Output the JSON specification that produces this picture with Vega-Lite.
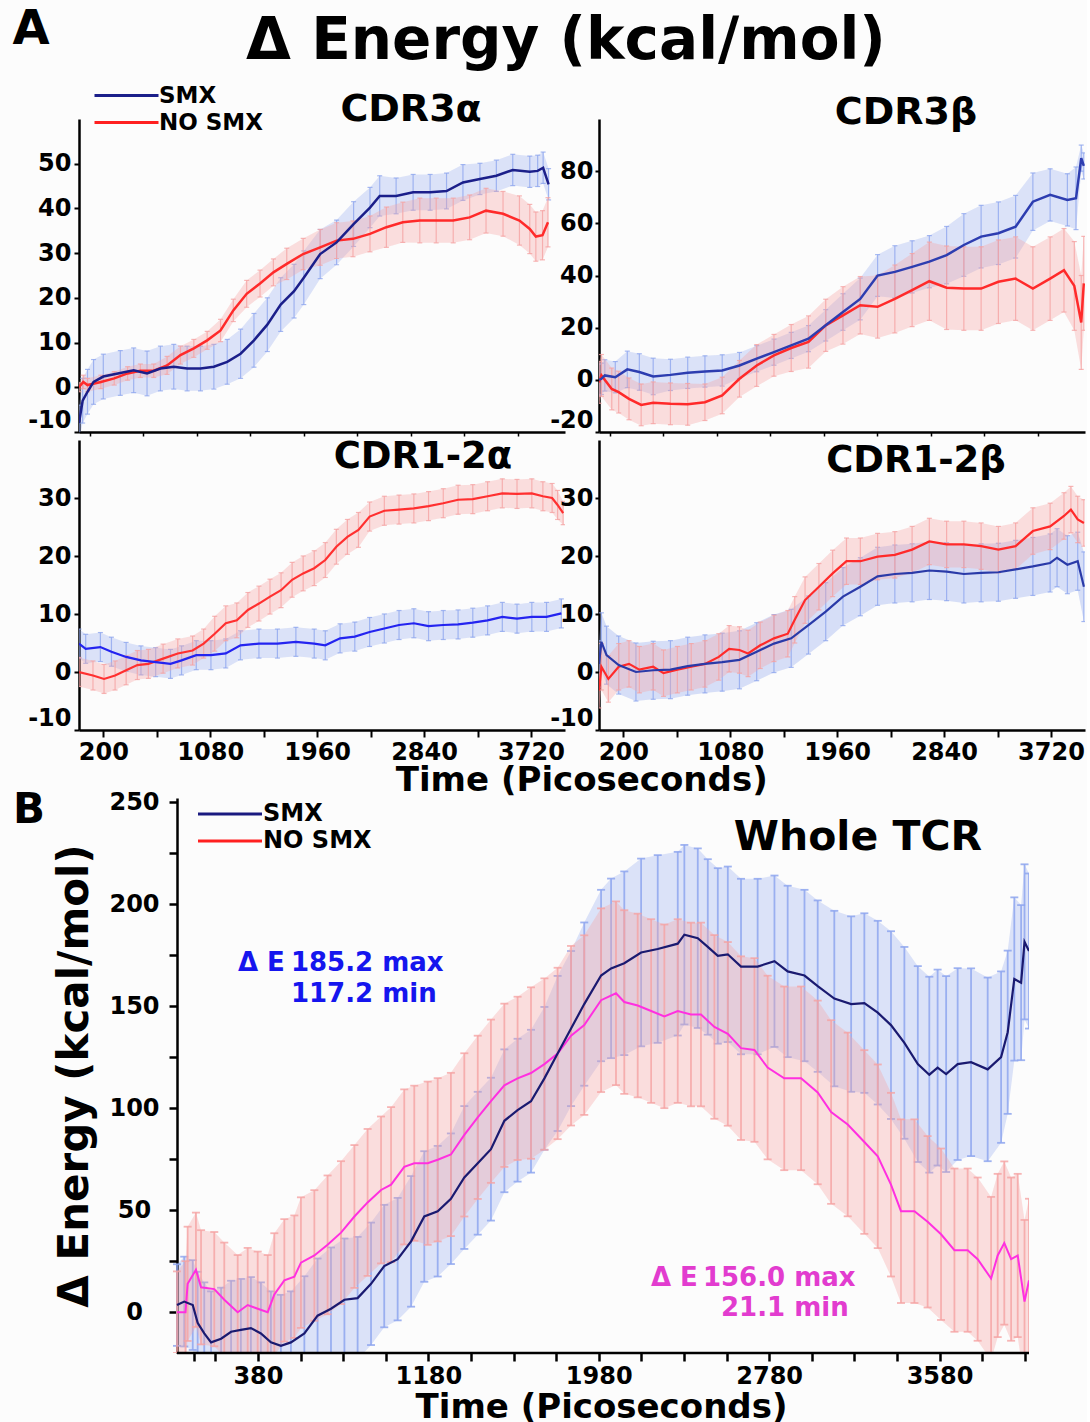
{
"$schema": "https://vega.github.io/schema/vega-lite/v6.json",
"background": "#fcfcfc",
"padding": {"left": 12, "top": 6, "right": 2, "bottom": 0},
"config": {
  "font": "DejaVu Sans",
  "view": {"stroke": null},
  "axis": {"grid": false, "domainColor": "#000", "domainWidth": 2.5, "tickColor": "#000", "tickWidth": 2, "labelColor": "#000", "labelFont": "DejaVu Sans", "labelFontWeight": "bold", "labelFontSize": 24, "titleFont": "DejaVu Sans", "titleFontWeight": "bold", "titleColor": "#000"},
  "title": {"font": "DejaVu Sans", "fontWeight": "bold", "color": "#000"}
},
"datasets": {
  "cdr3a_smx": [{"t":0,"m":-8,"e":4},{"t":30,"m":-3,"e":5},{"t":70,"m":-1,"e":5},{"t":120,"m":1.2,"e":5},{"t":200,"m":2.4,"e":5},{"t":340,"m":3.2,"e":5},{"t":450,"m":3.8,"e":5},{"t":560,"m":3.1,"e":5},{"t":670,"m":4.2,"e":5},{"t":780,"m":4.6,"e":5},{"t":890,"m":4.2,"e":5},{"t":1000,"m":4.2,"e":5},{"t":1110,"m":4.6,"e":5},{"t":1220,"m":5.7,"e":5},{"t":1330,"m":7.5,"e":5.5},{"t":1440,"m":10.5,"e":6},{"t":1550,"m":14,"e":6},{"t":1660,"m":18.5,"e":6},{"t":1770,"m":21.5,"e":6},{"t":1850,"m":24.5,"e":6},{"t":1985,"m":29.8,"e":5.5},{"t":2120,"m":32.4,"e":5},{"t":2260,"m":36.5,"e":5},{"t":2395,"m":40.2,"e":4.5},{"t":2475,"m":42.8,"e":4.5},{"t":2610,"m":42.8,"e":4},{"t":2750,"m":43.6,"e":4},{"t":2890,"m":43.6,"e":4},{"t":3025,"m":43.9,"e":4},{"t":3160,"m":45.8,"e":4},{"t":3300,"m":46.6,"e":3.5},{"t":3435,"m":47.3,"e":3.5},{"t":3570,"m":48.6,"e":3.5},{"t":3710,"m":48.2,"e":3.5},{"t":3775,"m":48.4,"e":3.5},{"t":3820,"m":49.1,"e":3.5},{"t":3865,"m":45.4,"e":3.5}],
  "cdr3a_no": [{"t":0,"m":0,"e":1},{"t":35,"m":1.2,"e":1.5},{"t":70,"m":0.5,"e":1.5},{"t":180,"m":1.2,"e":1.5},{"t":290,"m":2,"e":1.5},{"t":400,"m":3.1,"e":1.5},{"t":505,"m":3.7,"e":1.5},{"t":615,"m":3.7,"e":1.5},{"t":725,"m":4.9,"e":2},{"t":835,"m":7.2,"e":2},{"t":945,"m":8.7,"e":2},{"t":1055,"m":10.5,"e":2},{"t":1165,"m":12.7,"e":2.5},{"t":1270,"m":17.2,"e":2.5},{"t":1380,"m":20.9,"e":3},{"t":1490,"m":23.2,"e":3},{"t":1600,"m":25.7,"e":3},{"t":1710,"m":27.6,"e":3.5},{"t":1845,"m":29.8,"e":3.5},{"t":1985,"m":31.3,"e":4},{"t":2120,"m":32.8,"e":4},{"t":2255,"m":33.2,"e":4},{"t":2395,"m":34.3,"e":4},{"t":2530,"m":35.8,"e":4.5},{"t":2665,"m":36.9,"e":4.5},{"t":2805,"m":37.3,"e":5},{"t":2940,"m":37.3,"e":5},{"t":3080,"m":37.3,"e":5},{"t":3215,"m":38,"e":5},{"t":3350,"m":39.5,"e":5},{"t":3490,"m":38.8,"e":5},{"t":3625,"m":37.3,"e":5.5},{"t":3710,"m":35.4,"e":5.5},{"t":3760,"m":33.7,"e":5.5},{"t":3815,"m":34,"e":5.5},{"t":3860,"m":36.9,"e":5.5}],
  "cdr3b_smx": [{"t":0,"m":0,"e":6},{"t":20,"m":0.4,"e":6},{"t":48,"m":1.7,"e":6},{"t":134,"m":1,"e":6},{"t":233,"m":4,"e":7},{"t":332,"m":3,"e":7},{"t":446,"m":1.3,"e":7},{"t":588,"m":1.9,"e":6},{"t":730,"m":2.7,"e":6},{"t":872,"m":3.2,"e":6},{"t":1014,"m":3.6,"e":6},{"t":1156,"m":5.5,"e":5},{"t":1298,"m":8.1,"e":5},{"t":1440,"m":10.6,"e":5},{"t":1582,"m":13.2,"e":5},{"t":1724,"m":15.8,"e":5},{"t":1866,"m":20.9,"e":6},{"t":2008,"m":26,"e":7},{"t":2150,"m":31,"e":8},{"t":2293,"m":40,"e":8},{"t":2435,"m":41.4,"e":10},{"t":2577,"m":43.3,"e":10},{"t":2719,"m":45.3,"e":10},{"t":2861,"m":47.8,"e":11},{"t":3003,"m":51.7,"e":12},{"t":3145,"m":54.9,"e":12},{"t":3287,"m":56.2,"e":12},{"t":3429,"m":58.7,"e":12},{"t":3571,"m":68.3,"e":11},{"t":3713,"m":70.9,"e":10},{"t":3855,"m":69,"e":10},{"t":3926,"m":69.6,"e":12},{"t":3969,"m":85,"e":5},{"t":3990,"m":82,"e":5}],
  "cdr3b_no": [{"t":0,"m":-1,"e":8},{"t":20,"m":1.7,"e":8},{"t":105,"m":-3.5,"e":8},{"t":162,"m":-4.7,"e":8},{"t":247,"m":-7.3,"e":8},{"t":347,"m":-9.6,"e":8},{"t":446,"m":-8.8,"e":8},{"t":588,"m":-9.2,"e":8},{"t":730,"m":-9.4,"e":8},{"t":872,"m":-8.6,"e":7},{"t":1014,"m":-6,"e":7},{"t":1156,"m":0.4,"e":7},{"t":1298,"m":5.5,"e":8},{"t":1440,"m":9.4,"e":8},{"t":1582,"m":12.2,"e":9},{"t":1724,"m":14.5,"e":10},{"t":1866,"m":20.9,"e":10},{"t":2008,"m":24.7,"e":11},{"t":2150,"m":28.6,"e":11},{"t":2293,"m":28,"e":12},{"t":2435,"m":31,"e":13},{"t":2577,"m":34.4,"e":14},{"t":2719,"m":37.8,"e":15},{"t":2861,"m":35.3,"e":16},{"t":3003,"m":35,"e":16},{"t":3145,"m":35,"e":16},{"t":3287,"m":37.6,"e":16},{"t":3429,"m":38.8,"e":16},{"t":3571,"m":35,"e":16},{"t":3713,"m":38.8,"e":16},{"t":3827,"m":42,"e":16},{"t":3912,"m":36,"e":17},{"t":3969,"m":22,"e":18},{"t":3990,"m":37,"e":18}],
  "cdr12a_smx": [{"t":0,"m":4.9,"e":2.5},{"t":55,"m":4,"e":2.5},{"t":176,"m":4.3,"e":2.5},{"t":267,"m":3.5,"e":2.5},{"t":388,"m":2.6,"e":2.5},{"t":510,"m":2,"e":2.5},{"t":631,"m":1.7,"e":2.5},{"t":753,"m":1.4,"e":2.5},{"t":844,"m":2,"e":2.5},{"t":965,"m":2.9,"e":2.5},{"t":1086,"m":2.9,"e":2.5},{"t":1208,"m":3.2,"e":2.5},{"t":1329,"m":4.6,"e":2.5},{"t":1481,"m":4.9,"e":2.5},{"t":1633,"m":4.9,"e":2.5},{"t":1785,"m":5.2,"e":2.5},{"t":1936,"m":4.9,"e":2.5},{"t":2027,"m":4.6,"e":2.5},{"t":2149,"m":5.8,"e":2.5},{"t":2270,"m":6.1,"e":2.5},{"t":2392,"m":6.9,"e":2.5},{"t":2513,"m":7.5,"e":2.5},{"t":2634,"m":8.1,"e":2.5},{"t":2756,"m":8.4,"e":2.5},{"t":2877,"m":7.9,"e":2.5},{"t":2998,"m":8.1,"e":2.5},{"t":3120,"m":8.2,"e":2.5},{"t":3241,"m":8.5,"e":2.5},{"t":3363,"m":8.9,"e":2.5},{"t":3484,"m":9.5,"e":2.5},{"t":3605,"m":9.2,"e":2.5},{"t":3727,"m":9.5,"e":2.5},{"t":3848,"m":9.5,"e":2.5},{"t":3970,"m":10.1,"e":2.5}],
  "cdr12a_no": [{"t":0,"m":0,"e":2.5},{"t":115,"m":-0.6,"e":2.5},{"t":206,"m":-1.2,"e":2.5},{"t":297,"m":-0.6,"e":2.5},{"t":388,"m":0.3,"e":2.5},{"t":480,"m":1.2,"e":2.5},{"t":571,"m":1.4,"e":2.5},{"t":692,"m":2.3,"e":2.5},{"t":813,"m":3.2,"e":2.5},{"t":935,"m":3.7,"e":2.5},{"t":1026,"m":4.9,"e":2.5},{"t":1117,"m":6.6,"e":3},{"t":1208,"m":8.4,"e":3},{"t":1299,"m":8.9,"e":3},{"t":1390,"m":10.7,"e":3},{"t":1481,"m":11.8,"e":3},{"t":1572,"m":13,"e":3},{"t":1663,"m":14.1,"e":3},{"t":1754,"m":15.9,"e":3},{"t":1845,"m":17,"e":3},{"t":1936,"m":17.9,"e":3},{"t":2027,"m":19.3,"e":3},{"t":2118,"m":21.6,"e":3},{"t":2209,"m":23.3,"e":3},{"t":2300,"m":24.5,"e":3},{"t":2392,"m":26.8,"e":2.5},{"t":2513,"m":27.8,"e":2.5},{"t":2634,"m":28,"e":2.5},{"t":2756,"m":28.2,"e":2.5},{"t":2877,"m":28.6,"e":2.5},{"t":2998,"m":29.1,"e":2.5},{"t":3120,"m":29.7,"e":2.5},{"t":3241,"m":29.8,"e":2.5},{"t":3363,"m":30.3,"e":2.5},{"t":3484,"m":30.8,"e":2.5},{"t":3605,"m":30.7,"e":2.5},{"t":3727,"m":30.8,"e":2.5},{"t":3818,"m":30.3,"e":2.5},{"t":3894,"m":30,"e":2.5},{"t":3939,"m":28.8,"e":2.5},{"t":3985,"m":27.4,"e":2}],
  "cdr12b_smx": [{"t":0,"m":1.4,"e":4},{"t":20,"m":5.2,"e":5},{"t":62,"m":2.9,"e":5},{"t":162,"m":1.2,"e":5},{"t":304,"m":0,"e":5},{"t":446,"m":0.3,"e":5},{"t":588,"m":0.4,"e":5},{"t":730,"m":1,"e":5},{"t":872,"m":1.4,"e":5},{"t":1014,"m":1.7,"e":5},{"t":1156,"m":2.1,"e":5},{"t":1298,"m":3.5,"e":5},{"t":1440,"m":4.9,"e":5},{"t":1582,"m":5.8,"e":5},{"t":1724,"m":8.1,"e":5},{"t":1866,"m":10.4,"e":5},{"t":2008,"m":13,"e":5},{"t":2151,"m":14.7,"e":5},{"t":2293,"m":16.5,"e":5},{"t":2435,"m":16.9,"e":5},{"t":2577,"m":17.1,"e":5},{"t":2719,"m":17.5,"e":5},{"t":2861,"m":17.3,"e":5},{"t":3003,"m":16.9,"e":5},{"t":3145,"m":17.1,"e":5},{"t":3287,"m":17.2,"e":5},{"t":3429,"m":17.7,"e":5},{"t":3571,"m":18.2,"e":5},{"t":3713,"m":18.8,"e":5},{"t":3770,"m":19.7,"e":5},{"t":3855,"m":18.5,"e":5},{"t":3940,"m":19.1,"e":5},{"t":3991,"m":14.7,"e":6}],
  "cdr12b_no": [{"t":0,"m":-3.2,"e":3},{"t":20,"m":0.9,"e":4},{"t":77,"m":-1.2,"e":4},{"t":162,"m":0.9,"e":4},{"t":247,"m":1.4,"e":4},{"t":332,"m":0.4,"e":4},{"t":446,"m":0.9,"e":4},{"t":531,"m":-0.2,"e":4},{"t":645,"m":0.4,"e":4},{"t":759,"m":0.9,"e":4},{"t":872,"m":1.4,"e":4},{"t":986,"m":2.6,"e":4},{"t":1071,"m":4,"e":4},{"t":1156,"m":3.8,"e":4},{"t":1227,"m":3.2,"e":4},{"t":1327,"m":4.6,"e":4},{"t":1440,"m":5.8,"e":4},{"t":1554,"m":6.6,"e":4},{"t":1611,"m":9,"e":4},{"t":1696,"m":12.4,"e":4},{"t":1810,"m":14.7,"e":4},{"t":1923,"m":17,"e":4},{"t":2037,"m":19.1,"e":4},{"t":2151,"m":19.1,"e":4},{"t":2293,"m":19.9,"e":4},{"t":2435,"m":20.2,"e":4},{"t":2577,"m":21.1,"e":4},{"t":2719,"m":22.5,"e":4},{"t":2861,"m":22,"e":4},{"t":3003,"m":22,"e":4},{"t":3145,"m":21.7,"e":4},{"t":3287,"m":21.1,"e":4},{"t":3429,"m":21.7,"e":4},{"t":3571,"m":24.3,"e":4},{"t":3713,"m":25.1,"e":4},{"t":3827,"m":26.9,"e":4},{"t":3884,"m":28,"e":4},{"t":3940,"m":26.3,"e":4},{"t":3991,"m":25.7,"e":4}],
  "tcr_smx": [{"t":0,"m":3.5,"e":20},{"t":34,"m":5.2,"e":22},{"t":74,"m":3.5,"e":22},{"t":97,"m":-5.2,"e":25},{"t":128,"m":-10.4,"e":25},{"t":160,"m":-14.8,"e":25},{"t":207,"m":-13,"e":25},{"t":254,"m":-9.6,"e":25},{"t":300,"m":-8.7,"e":25},{"t":347,"m":-7.8,"e":25},{"t":394,"m":-10.4,"e":25},{"t":441,"m":-14.8,"e":25},{"t":488,"m":-16.5,"e":25},{"t":535,"m":-14.8,"e":25},{"t":598,"m":-10.4,"e":28},{"t":660,"m":-1.7,"e":28},{"t":723,"m":1.7,"e":30},{"t":786,"m":6.1,"e":30},{"t":848,"m":6.9,"e":30},{"t":911,"m":13.9,"e":30},{"t":973,"m":22.6,"e":30},{"t":1036,"m":26,"e":30},{"t":1099,"m":34.7,"e":32},{"t":1161,"m":46.9,"e":32},{"t":1224,"m":49.5,"e":32},{"t":1286,"m":55.6,"e":32},{"t":1349,"m":66,"e":35},{"t":1412,"m":73,"e":35},{"t":1474,"m":79.9,"e":35},{"t":1537,"m":93.8,"e":35},{"t":1599,"m":99,"e":35},{"t":1662,"m":103.4,"e":35},{"t":1725,"m":114.6,"e":35},{"t":1787,"m":126.8,"e":38},{"t":1850,"m":139,"e":38},{"t":1912,"m":151,"e":40},{"t":1991,"m":165,"e":42},{"t":2038,"m":168.5,"e":44},{"t":2100,"m":171,"e":45},{"t":2179,"m":176.3,"e":46},{"t":2257,"m":178,"e":46},{"t":2351,"m":180.6,"e":45},{"t":2382,"m":185,"e":44},{"t":2445,"m":183.3,"e":44},{"t":2492,"m":179,"e":43},{"t":2539,"m":174.6,"e":43},{"t":2586,"m":175.4,"e":43},{"t":2648,"m":169.4,"e":43},{"t":2726,"m":169.4,"e":43},{"t":2805,"m":172,"e":42},{"t":2867,"m":167,"e":42},{"t":2946,"m":165,"e":42},{"t":3008,"m":159.8,"e":42},{"t":3086,"m":153.7,"e":43},{"t":3165,"m":151,"e":43},{"t":3227,"m":151.5,"e":44},{"t":3290,"m":146.8,"e":45},{"t":3352,"m":140.7,"e":46},{"t":3415,"m":132,"e":47},{"t":3478,"m":121.6,"e":48},{"t":3532,"m":116.4,"e":48},{"t":3571,"m":119.9,"e":48},{"t":3611,"m":116.7,"e":48},{"t":3665,"m":121.6,"e":47},{"t":3728,"m":122.5,"e":46},{"t":3806,"m":119,"e":45},{"t":3869,"m":125,"e":42},{"t":3900,"m":137.2,"e":40},{"t":3931,"m":163.3,"e":40},{"t":3963,"m":161.5,"e":38},{"t":3979,"m":181.5,"e":38},{"t":4000,"m":177,"e":38}],
  "tcr_no": [{"t":0,"m":0,"e":20},{"t":40,"m":0,"e":25},{"t":50,"m":13.9,"e":28},{"t":89,"m":20.8,"e":28},{"t":113,"m":12.2,"e":28},{"t":175,"m":11.3,"e":28},{"t":222,"m":6.1,"e":28},{"t":285,"m":0,"e":28},{"t":332,"m":3.5,"e":28},{"t":379,"m":1.7,"e":28},{"t":426,"m":0,"e":28},{"t":457,"m":8.7,"e":30},{"t":504,"m":15.6,"e":30},{"t":551,"m":17.4,"e":30},{"t":582,"m":24.3,"e":32},{"t":645,"m":27.8,"e":32},{"t":707,"m":33,"e":34},{"t":770,"m":39,"e":35},{"t":833,"m":46.9,"e":35},{"t":895,"m":53.8,"e":36},{"t":958,"m":59.9,"e":36},{"t":1005,"m":62.5,"e":38},{"t":1067,"m":71.2,"e":38},{"t":1114,"m":73,"e":38},{"t":1177,"m":73,"e":40},{"t":1224,"m":74.7,"e":40},{"t":1286,"m":77.3,"e":40},{"t":1349,"m":86.9,"e":40},{"t":1412,"m":95.5,"e":40},{"t":1474,"m":103.4,"e":40},{"t":1537,"m":111.2,"e":40},{"t":1599,"m":114.6,"e":40},{"t":1662,"m":117.2,"e":42},{"t":1725,"m":121.6,"e":42},{"t":1787,"m":126.8,"e":42},{"t":1850,"m":135.5,"e":44},{"t":1912,"m":140.7,"e":44},{"t":1991,"m":152.9,"e":45},{"t":2061,"m":156.3,"e":45},{"t":2100,"m":152,"e":45},{"t":2163,"m":150.3,"e":45},{"t":2226,"m":147.6,"e":45},{"t":2288,"m":145,"e":45},{"t":2351,"m":147.6,"e":45},{"t":2413,"m":145.9,"e":45},{"t":2460,"m":145.9,"e":45},{"t":2523,"m":139.8,"e":45},{"t":2586,"m":136.4,"e":45},{"t":2648,"m":129.4,"e":45},{"t":2711,"m":128.5,"e":45},{"t":2773,"m":119.9,"e":45},{"t":2851,"m":114.6,"e":45},{"t":2930,"m":114.6,"e":45},{"t":3008,"m":107.7,"e":45},{"t":3071,"m":98.1,"e":45},{"t":3149,"m":92,"e":45},{"t":3227,"m":83.4,"e":45},{"t":3290,"m":76.4,"e":45},{"t":3352,"m":62.5,"e":45},{"t":3399,"m":49.5,"e":45},{"t":3462,"m":49.5,"e":45},{"t":3524,"m":44.3,"e":42},{"t":3587,"m":38.2,"e":42},{"t":3650,"m":30.4,"e":40},{"t":3712,"m":30.4,"e":40},{"t":3759,"m":26,"e":40},{"t":3822,"m":16.5,"e":40},{"t":3853,"m":27.8,"e":40},{"t":3884,"m":33.9,"e":40},{"t":3916,"m":26,"e":40},{"t":3947,"m":27.8,"e":40},{"t":3979,"m":5.2,"e":40},{"t":4000,"m":15.6,"e":40}]
},
"spacing": -9,
"resolve": {"scale": {"x": "independent", "y": "independent", "color": "independent"}, "legend": {"color": "independent"}},
"vconcat": [
 {
  "columns": 2,
  "spacing": {"row": 8, "column": 34},
  "bounds": "flush",
  "title": {"text": "Time (Picoseconds)", "orient": "bottom", "anchor": "middle", "fontSize": 34, "offset": 0, "dx": 33},
  "resolve": {"scale": {"x": "independent", "y": "independent", "color": "independent"}, "legend": {"color": "independent"}},
  "concat": [
   {
    "width": 486, "height": 313,
    "layer": [
     {"data": {"name": "cdr3a_smx"}, "mark": {"type": "errorband", "color": "#8ea6ee", "opacity": 0.3, "clip": true},
      "encoding": {
       "x": {"field": "t", "type": "quantitative", "title": null, "scale": {"domain": [0, 4000], "nice": false, "zero": false},
             "axis": {"title": null, "labels": false, "tickSize": 4, "tickWidth": 1.5, "values": [90,200,310,420,530,640,750,860,970,1080,1190,1300,1410,1520,1630,1740,1850,1960,2070,2180,2290,2400,2510,2620,2730,2840,2950,3060,3170,3280,3390,3500,3610,3720,3830,3940]}},
       "y": {"field": "m", "type": "quantitative", "title": null, "scale": {"domain": [-10, 60], "nice": false, "zero": false},
             "axis": {"title": null, "values": [-10,0,10,20,30,40,50], "labelExpr": "'' + datum.value", "tickSize": 5, "labelPadding": 3, "labelFlush": true}},
       "yError": {"field": "e"}}},
     {"data": {"name": "cdr3a_smx"}, "mark": {"type": "errorbar", "ticks": true, "color": "#8ea6ee", "opacity": 0.8, "thickness": 1.2, "size": 5, "clip": true}, "encoding": {"x": {"field": "t", "type": "quantitative", "title": null}, "y": {"field": "m", "type": "quantitative", "title": null}, "yError": {"field": "e"}}},
     {"data": {"name": "cdr3a_no"}, "mark": {"type": "errorband", "color": "#f5a3a3", "opacity": 0.35, "clip": true}, "encoding": {"x": {"field": "t", "type": "quantitative", "title": null}, "y": {"field": "m", "type": "quantitative", "title": null}, "yError": {"field": "e"}}},
     {"data": {"name": "cdr3a_no"}, "mark": {"type": "errorbar", "ticks": true, "color": "#f5a3a3", "opacity": 0.8, "thickness": 1.2, "size": 5, "clip": true}, "encoding": {"x": {"field": "t", "type": "quantitative", "title": null}, "y": {"field": "m", "type": "quantitative", "title": null}, "yError": {"field": "e"}}},
     {"data": {"name": "cdr3a_no"}, "mark": {"type": "line", "color": "#ff2a2a", "strokeWidth": 2.5, "clip": true}, "encoding": {"x": {"field": "t", "type": "quantitative", "title": null}, "y": {"field": "m", "type": "quantitative", "title": null}}},
     {"data": {"name": "cdr3a_smx"}, "mark": {"type": "line", "color": "#1b1f8a", "strokeWidth": 2.5, "clip": true}, "encoding": {"x": {"field": "t", "type": "quantitative", "title": null}, "y": {"field": "m", "type": "quantitative", "title": null}}},
     {"data": {"values": [{"s": "SMX"}, {"s": "NO SMX"}]}, "transform": [{"filter": "datum.s == 'none'"}],
      "mark": {"type": "rule", "strokeWidth": 3},
      "encoding": {"x": {"field": "t", "type": "quantitative", "title": null}, "color": {"field": "s", "type": "nominal", "scale": {"domain": ["SMX", "NO SMX"], "range": ["#1b1f8a", "#ff2020"]},
        "legend": {"orient": "none", "legendX": 36, "legendY": -35, "title": null, "symbolType": "M-4,0H4", "symbolSize": 256, "symbolStrokeWidth": 3, "labelFontSize": 23, "labelFontWeight": "bold", "labelFont": "DejaVu Sans", "labelColor": "#000", "labelOffset": 21, "rowPadding": 3, "padding": 0}}}},
     {"data": {"values": [{"label": "A"}]}, "mark": {"type": "text", "fontSize": 48, "fontWeight": "bold", "align": "center", "baseline": "middle", "color": "#000"}, "encoding": {"x": {"datum": -395, "type": "quantitative"}, "y": {"datum": 79.9, "type": "quantitative"}, "text": {"field": "label", "type": "nominal"}}},
     {"data": {"values": [{"label": "Δ Energy (kcal/mol)"}]}, "mark": {"type": "text", "fontSize": 58, "fontWeight": "bold", "align": "center", "baseline": "middle", "color": "#000"}, "encoding": {"x": {"datum": 4008, "type": "quantitative"}, "y": {"datum": 77.2, "type": "quantitative"}, "text": {"field": "label", "type": "nominal"}}},
     {"data": {"values": [{"label": "CDR3α"}]}, "mark": {"type": "text", "fontSize": 38, "fontWeight": "bold", "align": "center", "baseline": "middle", "color": "#000"}, "encoding": {"x": {"datum": 2733, "type": "quantitative"}, "y": {"datum": 62, "type": "quantitative"}, "text": {"field": "label", "type": "nominal"}}}
    ]
   },
   {
    "width": 486, "height": 313,
    "layer": [
     {"data": {"name": "cdr3b_smx"}, "mark": {"type": "errorband", "color": "#8ea6ee", "opacity": 0.3, "clip": true},
      "encoding": {
       "x": {"field": "t", "type": "quantitative", "title": null, "scale": {"domain": [0, 4000], "nice": false, "zero": false},
             "axis": {"title": null, "labels": false, "tickSize": 4, "tickWidth": 1.5, "values": [90,200,310,420,530,640,750,860,970,1080,1190,1300,1410,1520,1630,1740,1850,1960,2070,2180,2290,2400,2510,2620,2730,2840,2950,3060,3170,3280,3390,3500,3610,3720,3830,3940]}},
       "y": {"field": "m", "type": "quantitative", "title": null, "scale": {"domain": [-20, 100], "nice": false, "zero": false},
             "axis": {"title": null, "values": [-20,0,20,40,60,80], "labelExpr": "'' + datum.value", "tickSize": 4, "labelPadding": 2, "labelFlush": true}},
       "yError": {"field": "e"}}},
     {"data": {"name": "cdr3b_smx"}, "mark": {"type": "errorbar", "ticks": true, "color": "#8ea6ee", "opacity": 0.8, "thickness": 1.2, "size": 5, "clip": true}, "encoding": {"x": {"field": "t", "type": "quantitative", "title": null}, "y": {"field": "m", "type": "quantitative", "title": null}, "yError": {"field": "e"}}},
     {"data": {"name": "cdr3b_no"}, "mark": {"type": "errorband", "color": "#f5a3a3", "opacity": 0.35, "clip": true}, "encoding": {"x": {"field": "t", "type": "quantitative", "title": null}, "y": {"field": "m", "type": "quantitative", "title": null}, "yError": {"field": "e"}}},
     {"data": {"name": "cdr3b_no"}, "mark": {"type": "errorbar", "ticks": true, "color": "#f5a3a3", "opacity": 0.8, "thickness": 1.2, "size": 5, "clip": true}, "encoding": {"x": {"field": "t", "type": "quantitative", "title": null}, "y": {"field": "m", "type": "quantitative", "title": null}, "yError": {"field": "e"}}},
     {"data": {"name": "cdr3b_no"}, "mark": {"type": "line", "color": "#ff2a2a", "strokeWidth": 2.5, "clip": true}, "encoding": {"x": {"field": "t", "type": "quantitative", "title": null}, "y": {"field": "m", "type": "quantitative", "title": null}}},
     {"data": {"name": "cdr3b_smx"}, "mark": {"type": "line", "color": "#2d3db0", "strokeWidth": 2.5, "clip": true}, "encoding": {"x": {"field": "t", "type": "quantitative", "title": null}, "y": {"field": "m", "type": "quantitative", "title": null}}},
     {"data": {"values": [{"label": "CDR3β"}]}, "mark": {"type": "text", "fontSize": 38, "fontWeight": "bold", "align": "center", "baseline": "middle", "color": "#000"}, "encoding": {"x": {"datum": 2527, "type": "quantitative"}, "y": {"datum": 102.3, "type": "quantitative"}, "text": {"field": "label", "type": "nominal"}}}
    ]
   },
   {
    "width": 486, "height": 290,
    "layer": [
     {"data": {"name": "cdr12a_smx"}, "mark": {"type": "errorband", "color": "#8ea6ee", "opacity": 0.3, "clip": true},
      "encoding": {
       "x": {"field": "t", "type": "quantitative", "title": null, "scale": {"domain": [0, 4000], "nice": false, "zero": false},
             "axis": {"title": null, "format": "d", "tickSize": 7, "labelPadding": 3, "labelFlush": false, "values": [200,420,640,860,1080,1300,1520,1740,1960,2180,2400,2620,2840,3060,3280,3500,3720,3940], "labelExpr": "(datum.value - 200) % 880 == 0 ? datum.label : ''"}},
       "y": {"field": "m", "type": "quantitative", "title": null, "scale": {"domain": [-10, 40], "nice": false, "zero": false},
             "axis": {"title": null, "values": [-10,0,10,20,30], "labelExpr": "'' + datum.value", "tickSize": 5, "labelPadding": 3, "labelFlush": true}},
       "yError": {"field": "e"}}},
     {"data": {"name": "cdr12a_smx"}, "mark": {"type": "errorbar", "ticks": true, "color": "#8ea6ee", "opacity": 0.8, "thickness": 1.2, "size": 5, "clip": true}, "encoding": {"x": {"field": "t", "type": "quantitative", "title": null}, "y": {"field": "m", "type": "quantitative", "title": null}, "yError": {"field": "e"}}},
     {"data": {"name": "cdr12a_no"}, "mark": {"type": "errorband", "color": "#f5a3a3", "opacity": 0.35, "clip": true}, "encoding": {"x": {"field": "t", "type": "quantitative", "title": null}, "y": {"field": "m", "type": "quantitative", "title": null}, "yError": {"field": "e"}}},
     {"data": {"name": "cdr12a_no"}, "mark": {"type": "errorbar", "ticks": true, "color": "#f5a3a3", "opacity": 0.8, "thickness": 1.2, "size": 5, "clip": true}, "encoding": {"x": {"field": "t", "type": "quantitative", "title": null}, "y": {"field": "m", "type": "quantitative", "title": null}, "yError": {"field": "e"}}},
     {"data": {"name": "cdr12a_no"}, "mark": {"type": "line", "color": "#ff3030", "strokeWidth": 2.2, "clip": true}, "encoding": {"x": {"field": "t", "type": "quantitative", "title": null}, "y": {"field": "m", "type": "quantitative", "title": null}}},
     {"data": {"name": "cdr12a_smx"}, "mark": {"type": "line", "color": "#2424f0", "strokeWidth": 2.2, "clip": true}, "encoding": {"x": {"field": "t", "type": "quantitative", "title": null}, "y": {"field": "m", "type": "quantitative", "title": null}}},
     {"data": {"values": [{"label": "CDR1-2α"}]}, "mark": {"type": "text", "fontSize": 37, "fontWeight": "bold", "align": "center", "baseline": "middle", "color": "#000"}, "encoding": {"x": {"datum": 2831, "type": "quantitative"}, "y": {"datum": 37.1, "type": "quantitative"}, "text": {"field": "label", "type": "nominal"}}}
    ]
   },
   {
    "width": 486, "height": 290,
    "layer": [
     {"data": {"name": "cdr12b_smx"}, "mark": {"type": "errorband", "color": "#8ea6ee", "opacity": 0.35, "clip": true},
      "encoding": {
       "x": {"field": "t", "type": "quantitative", "title": null, "scale": {"domain": [0, 4000], "nice": false, "zero": false},
             "axis": {"title": null, "format": "d", "tickSize": 7, "labelPadding": 3, "labelFlush": false, "values": [200,420,640,860,1080,1300,1520,1740,1960,2180,2400,2620,2840,3060,3280,3500,3720,3940], "labelExpr": "(datum.value - 200) % 880 == 0 ? datum.label : ''"}},
       "y": {"field": "m", "type": "quantitative", "title": null, "scale": {"domain": [-10, 40], "nice": false, "zero": false},
             "axis": {"title": null, "values": [-10,0,10,20,30], "labelExpr": "'' + datum.value", "tickSize": 4, "labelPadding": 2, "labelFlush": true}},
       "yError": {"field": "e"}}},
     {"data": {"name": "cdr12b_smx"}, "mark": {"type": "errorbar", "ticks": true, "color": "#8ea6ee", "opacity": 0.8, "thickness": 1.2, "size": 5, "clip": true}, "encoding": {"x": {"field": "t", "type": "quantitative", "title": null}, "y": {"field": "m", "type": "quantitative", "title": null}, "yError": {"field": "e"}}},
     {"data": {"name": "cdr12b_no"}, "mark": {"type": "errorband", "color": "#f5a3a3", "opacity": 0.35, "clip": true}, "encoding": {"x": {"field": "t", "type": "quantitative", "title": null}, "y": {"field": "m", "type": "quantitative", "title": null}, "yError": {"field": "e"}}},
     {"data": {"name": "cdr12b_no"}, "mark": {"type": "errorbar", "ticks": true, "color": "#f5a3a3", "opacity": 0.8, "thickness": 1.2, "size": 5, "clip": true}, "encoding": {"x": {"field": "t", "type": "quantitative", "title": null}, "y": {"field": "m", "type": "quantitative", "title": null}, "yError": {"field": "e"}}},
     {"data": {"name": "cdr12b_no"}, "mark": {"type": "line", "color": "#ff2a2a", "strokeWidth": 2.2, "clip": true}, "encoding": {"x": {"field": "t", "type": "quantitative", "title": null}, "y": {"field": "m", "type": "quantitative", "title": null}}},
     {"data": {"name": "cdr12b_smx"}, "mark": {"type": "line", "color": "#2a3aa8", "strokeWidth": 2.2, "clip": true}, "encoding": {"x": {"field": "t", "type": "quantitative", "title": null}, "y": {"field": "m", "type": "quantitative", "title": null}}},
     {"data": {"values": [{"label": "CDR1-2β"}]}, "mark": {"type": "text", "fontSize": 37, "fontWeight": "bold", "align": "center", "baseline": "middle", "color": "#000"}, "encoding": {"x": {"datum": 2609, "type": "quantitative"}, "y": {"datum": 36.4, "type": "quantitative"}, "text": {"field": "label", "type": "nominal"}}}
    ]
   }
  ]
 },
 {
  "width": 950, "height": 555,
  "layer": [
   {"data": {"name": "tcr_smx"}, "mark": {"type": "errorband", "color": "#8ea6ee", "opacity": 0.3, "clip": true},
    "encoding": {
     "x": {"field": "t", "type": "quantitative", "title": "Time (Picoseconds)", "scale": {"domain": [-460, 4000], "nice": false, "zero": false},
           "axis": {"title": "Time (Picoseconds)", "titleFontSize": 34, "titlePadding": 2, "titleX": 522, "domain": false, "format": "d", "tickSize": 8, "tickWidth": 2.5, "labelPadding": 3, "labelFlush": false, "labelOverlap": false,
                    "values": [80,80,180,280,380,480,580,680,780,880,980,1080,1180,1280,1380,1480,1580,1680,1780,1880,1980,2080,2180,2280,2380,2480,2580,2680,2780,2880,2980,3080,3180,3280,3380,3480,3580,3680,3780,3880,3980],
                    "labelExpr": "(datum.value - 380) % 800 == 0 ? datum.label : ''"}},
     "y": {"field": "m", "type": "quantitative", "title": "Δ Energy (kcal/mol)", "scale": {"domain": [-20, 252], "nice": false, "zero": false},
           "axis": {"title": "Δ Energy (kcal/mol)", "titleFontSize": 42, "titlePadding": 12, "offset": -98, "values": [0,25,50,75,100,125,150,175,200,225,250], "labelExpr": "datum.value % 50 == 0 ? '' + datum.value : ''", "labelAlign": "center", "labelPadding": 35, "tickSize": 8, "tickWidth": 2.5}},
     "yError": {"field": "e"}}},
   {"data": {"name": "tcr_smx"}, "mark": {"type": "errorbar", "ticks": true, "color": "#8ea6ee", "opacity": 0.85, "thickness": 1.8, "size": 8, "clip": true}, "encoding": {"x": {"field": "t", "type": "quantitative", "title": "Time (Picoseconds)"}, "y": {"field": "m", "type": "quantitative", "title": "Δ Energy (kcal/mol)"}, "yError": {"field": "e"}}},
   {"data": {"name": "tcr_no"}, "mark": {"type": "errorband", "color": "#f5a3a3", "opacity": 0.35, "clip": true}, "encoding": {"x": {"field": "t", "type": "quantitative", "title": "Time (Picoseconds)"}, "y": {"field": "m", "type": "quantitative", "title": "Δ Energy (kcal/mol)"}, "yError": {"field": "e"}}},
   {"data": {"name": "tcr_no"}, "mark": {"type": "errorbar", "ticks": true, "color": "#f5a3a3", "opacity": 0.8, "thickness": 1.8, "size": 8, "clip": true}, "encoding": {"x": {"field": "t", "type": "quantitative", "title": "Time (Picoseconds)"}, "y": {"field": "m", "type": "quantitative", "title": "Δ Energy (kcal/mol)"}, "yError": {"field": "e"}}},
   {"data": {"name": "tcr_no"}, "mark": {"type": "line", "color": "#ff30e0", "strokeWidth": 2, "clip": true}, "encoding": {"x": {"field": "t", "type": "quantitative", "title": "Time (Picoseconds)"}, "y": {"field": "m", "type": "quantitative", "title": "Δ Energy (kcal/mol)"}}},
   {"data": {"name": "tcr_smx"}, "mark": {"type": "line", "color": "#1a1a70", "strokeWidth": 2.2, "clip": true}, "encoding": {"x": {"field": "t", "type": "quantitative", "title": "Time (Picoseconds)"}, "y": {"field": "m", "type": "quantitative", "title": "Δ Energy (kcal/mol)"}}},
   {"data": {"values": [{"label": "axis"}]}, "mark": {"type": "rule", "color": "#000", "strokeWidth": 2.5}, "encoding": {"x": {"datum": 0, "type": "quantitative", "title": "Time (Picoseconds)"}, "x2": {"datum": 4000}, "y": {"datum": -20, "type": "quantitative", "title": "Δ Energy (kcal/mol)"}}},
   {"data": {"values": [{"s": "SMX"}, {"s": "NO SMX"}]}, "transform": [{"filter": "datum.s == 'none'"}],
    "mark": {"type": "rule", "strokeWidth": 3},
    "encoding": {"x": {"field": "t", "type": "quantitative", "title": "Time (Picoseconds)"}, "color": {"field": "s", "type": "nominal", "scale": {"domain": ["SMX", "NO SMX"], "range": ["#1a1a80", "#ff2020"]},
      "legend": {"orient": "none", "legendX": 139, "legendY": 4, "title": null, "symbolType": "M-4,0H4", "symbolSize": 256, "symbolStrokeWidth": 3, "labelFontSize": 24, "labelFontWeight": "bold", "labelFont": "DejaVu Sans", "labelColor": "#000", "labelOffset": 21, "rowPadding": 3, "padding": 0}}}},
   {"data": {"values": [{"label": "B"}]}, "mark": {"type": "text", "fontSize": 42, "fontWeight": "bold", "align": "center", "baseline": "middle", "color": "#000"}, "encoding": {"x": {"datum": -695, "type": "quantitative", "title": "Time (Picoseconds)"}, "y": {"datum": 246.1, "type": "quantitative", "title": "Δ Energy (kcal/mol)"}, "text": {"field": "label", "type": "nominal"}}},
   {"data": {"values": [{"label": "Whole TCR"}]}, "mark": {"type": "text", "fontSize": 41, "fontWeight": "bold", "align": "center", "baseline": "middle", "color": "#000"}, "encoding": {"x": {"datum": 3197, "type": "quantitative", "title": "Time (Picoseconds)"}, "y": {"datum": 232.5, "type": "quantitative", "title": "Δ Energy (kcal/mol)"}, "text": {"field": "label", "type": "nominal"}}},
   {"data": {"values": [{"label": "Δ E"}]}, "mark": {"type": "text", "fontSize": 26, "fontWeight": "bold", "align": "left", "baseline": "middle", "color": "#1515ee"}, "encoding": {"x": {"datum": 286, "type": "quantitative", "title": "Time (Picoseconds)"}, "y": {"datum": 171.1, "type": "quantitative", "title": "Δ Energy (kcal/mol)"}, "text": {"field": "label", "type": "nominal"}}},
   {"data": {"values": [{"label": "185.2 max"}]}, "mark": {"type": "text", "fontSize": 26, "fontWeight": "bold", "align": "left", "baseline": "middle", "color": "#1515ee"}, "encoding": {"x": {"datum": 535, "type": "quantitative", "title": "Time (Picoseconds)"}, "y": {"datum": 171.1, "type": "quantitative", "title": "Δ Energy (kcal/mol)"}, "text": {"field": "label", "type": "nominal"}}},
   {"data": {"values": [{"label": "117.2 min"}]}, "mark": {"type": "text", "fontSize": 26, "fontWeight": "bold", "align": "left", "baseline": "middle", "color": "#1515ee"}, "encoding": {"x": {"datum": 535, "type": "quantitative", "title": "Time (Picoseconds)"}, "y": {"datum": 155.9, "type": "quantitative", "title": "Δ Energy (kcal/mol)"}, "text": {"field": "label", "type": "nominal"}}},
   {"data": {"values": [{"label": "Δ E"}]}, "mark": {"type": "text", "fontSize": 26, "fontWeight": "bold", "align": "left", "baseline": "middle", "color": "#e23ccf"}, "encoding": {"x": {"datum": 2225, "type": "quantitative", "title": "Time (Picoseconds)"}, "y": {"datum": 16.7, "type": "quantitative", "title": "Δ Energy (kcal/mol)"}, "text": {"field": "label", "type": "nominal"}}},
   {"data": {"values": [{"label": "156.0 max"}]}, "mark": {"type": "text", "fontSize": 26, "fontWeight": "bold", "align": "left", "baseline": "middle", "color": "#e23ccf"}, "encoding": {"x": {"datum": 2469, "type": "quantitative", "title": "Time (Picoseconds)"}, "y": {"datum": 16.7, "type": "quantitative", "title": "Δ Energy (kcal/mol)"}, "text": {"field": "label", "type": "nominal"}}},
   {"data": {"values": [{"label": "21.1 min"}]}, "mark": {"type": "text", "fontSize": 26, "fontWeight": "bold", "align": "left", "baseline": "middle", "color": "#e23ccf"}, "encoding": {"x": {"datum": 2554, "type": "quantitative", "title": "Time (Picoseconds)"}, "y": {"datum": 2.0, "type": "quantitative", "title": "Δ Energy (kcal/mol)"}, "text": {"field": "label", "type": "nominal"}}}
  ]
 }
]
}
